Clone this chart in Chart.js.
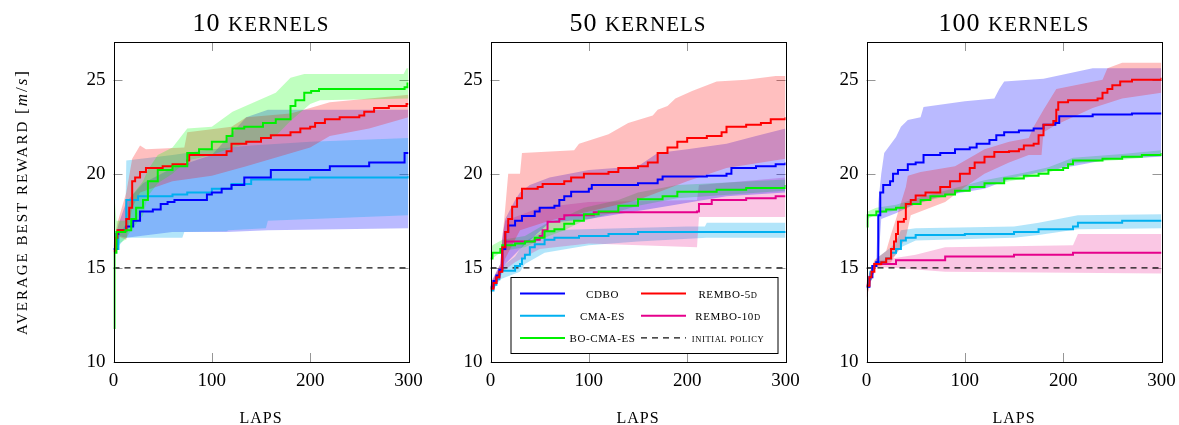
<!DOCTYPE html>
<html lang="en">
<head>
<meta charset="UTF-8">
<title>Average best reward vs laps</title>
<script src="https://cdn.jsdelivr.net/npm/chart.js"></script>
<style>
  body { margin: 0; background: #fff; overflow: hidden; }
  #wrap { position: relative; width: 1179px; height: 425px; overflow: hidden; }
  canvas { position: absolute; top: 0; }
</style>
</head>
<body>
<div id="wrap">
  <canvas id="c10" width="440" height="425" style="left:0px"></canvas>
  <canvas id="c50" width="440" height="425" style="left:377px"></canvas>
  <canvas id="c100" width="426" height="425" style="left:753px"></canvas>
</div>
<script>
// axis ticks
const xTicks = [0, 100, 200, 300];
const yTicks = [10, 15, 20, 25];
const initialPolicy = [[0, 15], [300, 15]];

// ---- 10 kernels: [lap, reward] ----
const k10_cdbo = [[0,16.0],[3,16.8],[5,17.0],[13,17.2],[20,17.5],[27,18.0],[40,18.1],[48,18.4],[55,18.5],[62,18.6],[95,18.9],[100,19.0],[110,19.2],[120,19.4],[133,19.8],[160,20.2],[220,20.4],[260,20.6],[296,21.1],[300,21.1]];
const k10_cdbo_hi = [[0,16.2],[5,17.3],[13,18.5],[30,19.5],[60,20.3],[100,21.0],[135,23.0],[157,23.4],[300,23.4]];
const k10_cdbo_lo = [[0,15.8],[5,16.7],[13,16.6],[60,16.9],[115,16.9],[157,17.0],[300,17.1]];
const k10_cma = [[0,16.0],[5,17.0],[12,17.1],[13,18.6],[25,18.8],[60,18.9],[75,19.0],[100,19.2],[120,19.45],[140,19.7],[200,19.8],[300,19.9]];
const k10_cma_hi = [[0,16.2],[12,17.3],[13,20.7],[60,21.0],[100,21.3],[140,21.5],[200,21.7],[300,21.9]];
const k10_cma_lo = [[0,15.8],[12,16.6],[70,16.6],[72,16.9],[115,16.95],[117,17.0],[155,17.1],[157,17.5],[300,17.8]];
const k10_bo = [[0,11.8],[1,15.8],[3,16.9],[12,17.0],[18,17.6],[23,18.2],[30,18.6],[35,19.6],[45,20.2],[60,20.4],[75,21.1],[87,21.3],[100,21.7],[115,22.0],[121,22.4],[133,22.5],[152,22.7],[165,22.9],[180,23.6],[185,23.9],[194,24.3],[201,24.4],[209,24.5],[290,24.5],[296,24.6],[299,24.8],[300,24.8]];
const k10_bo_hi = [[0,12.5],[1,18.8],[3,17.5],[12,17.5],[18,18.8],[30,19.6],[35,20.2],[45,21.0],[60,21.4],[75,22.4],[100,22.5],[121,23.3],[165,24.3],[180,25.1],[194,25.3],[295,25.3],[298,25.6],[300,25.6]];
const k10_bo_lo = [[0,11.0],[1,15.6],[3,16.2],[12,16.5],[18,17.0],[30,17.8],[35,18.8],[45,19.5],[60,20.0],[75,20.7],[100,21.0],[121,21.4],[165,22.0],[180,22.8],[200,23.7],[210,23.9],[300,24.0]];
const k10_r5 = [[0,15.9],[2,16.6],[4,17.0],[12,17.0],[13,17.6],[16,18.2],[19,19.6],[22,19.8],[27,20.1],[33,20.3],[50,20.4],[60,20.5],[75,20.7],[77,21.0],[100,21.0],[115,21.2],[120,21.6],[135,21.7],[150,21.9],[160,22.05],[180,22.2],[190,22.4],[200,22.5],[205,22.7],[215,22.9],[230,23.0],[250,23.1],[255,23.3],[265,23.5],[280,23.6],[298,23.7],[300,23.7]];
const k10_r5_hi = [[0,16.3],[4,17.4],[13,19.0],[19,20.8],[27,21.5],[33,21.3],[72,21.4],[75,22.2],[120,22.5],[135,23.0],[180,23.2],[200,23.5],[220,23.8],[300,24.2]];
const k10_r5_lo = [[0,15.5],[4,16.7],[13,16.5],[19,18.2],[27,19.0],[60,19.6],[100,19.9],[135,20.4],[200,21.4],[220,22.0],[260,22.4],[300,23.0]];

// ---- 50 kernels ----
const k50_cdbo = [[0,14.0],[3,14.3],[6,14.6],[9,14.9],[12,16.0],[15,16.9],[18,17.25],[25,17.5],[32,17.75],[45,18.0],[50,18.2],[65,18.3],[70,18.6],[75,18.8],[82,19.05],[100,19.2],[103,19.4],[150,19.5],[170,19.7],[175,19.85],[220,19.9],[240,20.0],[245,20.3],[270,20.4],[290,20.5],[300,20.6]];
const k50_cdbo_hi = [[0,14.2],[10,15.2],[12,16.5],[15,17.6],[25,18.6],[30,19.0],[40,19.4],[60,19.8],[100,20.2],[150,20.4],[170,21.1],[200,21.3],[240,21.6],[270,22.0],[300,22.4]];
const k50_cdbo_lo = [[0,13.6],[10,14.6],[12,15.0],[15,15.2],[30,16.0],[60,17.4],[100,17.6],[170,18.2],[240,18.8],[300,19.0]];
const k50_cma = [[0,13.8],[3,14.1],[6,14.4],[9,14.7],[10,14.85],[25,15.1],[30,15.2],[32,15.5],[35,15.7],[40,16.1],[45,16.25],[55,16.5],[65,16.6],[90,16.7],[120,16.8],[150,16.9],[300,16.95]];
const k50_cma_hi = [[0,14.0],[10,15.0],[25,15.6],[35,16.4],[55,17.0],[200,17.2],[218,17.2],[220,17.4],[300,17.4]];
const k50_cma_lo = [[0,13.6],[10,14.4],[30,14.8],[35,15.2],[55,15.8],[100,16.2],[150,16.4],[220,16.6],[300,16.6]];
const k50_bo = [[0,15.5],[2,15.8],[10,16.0],[12,16.2],[25,16.3],[35,16.4],[45,16.6],[55,16.95],[65,17.05],[75,17.35],[85,17.5],[95,17.85],[110,18.0],[130,18.3],[150,18.65],[175,18.8],[190,19.05],[230,19.15],[260,19.25],[300,19.4]];
const k50_bo_hi = [[0,15.9],[2,16.2],[12,16.5],[35,16.7],[55,17.3],[75,17.7],[95,18.2],[130,18.6],[150,19.0],[190,19.4],[300,19.7]];
const k50_bo_lo = [[0,15.2],[2,15.5],[12,15.9],[35,16.1],[55,16.6],[75,17.0],[95,17.5],[130,18.0],[150,18.3],[190,18.7],[300,19.1]];
const k50_r5 = [[0,13.9],[3,14.2],[6,14.5],[9,14.8],[12,16.1],[15,16.9],[18,17.6],[22,18.25],[27,18.7],[32,19.2],[48,19.3],[53,19.45],[75,19.6],[82,19.8],[95,20.0],[120,20.1],[130,20.3],[150,20.4],[160,20.6],[170,21.1],[180,21.4],[190,21.7],[200,21.9],[220,22.0],[235,22.2],[240,22.5],[260,22.6],[275,22.7],[285,22.9],[300,23.0]];
const k50_r5_hi = [[0,14.1],[10,15.2],[12,16.5],[15,18.2],[18,20.0],[30,20.0],[32,21.1],[85,21.25],[90,21.6],[120,22.1],[140,22.7],[165,23.1],[170,23.4],[180,23.6],[188,24.0],[205,24.4],[230,24.9],[260,25.0],[290,25.2],[300,25.2]];
const k50_r5_lo = [[0,13.7],[10,14.7],[12,15.0],[15,15.5],[30,17.0],[60,17.5],[100,18.0],[150,18.6],[200,19.6],[240,20.3],[300,20.8]];
const k50_r10 = [[0,13.9],[3,14.2],[6,14.5],[9,14.8],[11,15.0],[12,16.0],[15,16.4],[45,16.5],[50,16.7],[53,17.0],[58,17.45],[70,17.6],[75,17.8],[105,17.95],[210,18.0],[212,18.4],[225,18.6],[260,18.7],[290,18.8],[300,18.8]];
const k50_r10_hi = [[0,14.1],[10,15.1],[12,16.8],[15,17.5],[50,18.2],[100,18.5],[210,18.6],[212,19.4],[300,19.8]];
const k50_r10_lo = [[0,13.6],[10,14.7],[15,14.9],[25,15.3],[50,16.0],[100,16.3],[210,16.1],[212,17.7],[300,17.7]];

// ---- 100 kernels ----
const k100_cdbo = [[0,14.0],[3,14.5],[6,15.1],[10,15.3],[12,17.8],[14,19.0],[17,19.4],[24,19.6],[27,20.0],[32,20.2],[42,20.5],[50,20.6],[58,21.0],[75,21.1],[90,21.3],[105,21.4],[112,21.6],[125,21.8],[132,22.05],[140,22.2],[155,22.3],[170,22.4],[180,22.6],[192,22.7],[196,23.05],[230,23.15],[270,23.2],[300,23.2]];
const k100_cdbo_hi = [[0,14.2],[10,15.5],[12,18.5],[15,20.0],[18,21.1],[30,21.95],[35,22.5],[42,22.85],[55,23.0],[58,23.55],[100,23.85],[130,24.0],[135,24.5],[140,24.9],[180,25.05],[230,25.6],[300,25.6]];
const k100_cdbo_lo = [[0,13.8],[10,15.1],[12,15.3],[15,17.6],[30,17.9],[50,18.4],[75,18.8],[120,19.2],[150,19.8],[200,20.3],[250,20.8],[300,20.9]];
const k100_cma = [[0,14.0],[2,14.4],[4,14.8],[6,15.1],[10,15.3],[20,15.5],[25,15.8],[30,16.0],[35,16.45],[40,16.6],[50,16.75],[100,16.8],[150,16.9],[175,17.05],[210,17.2],[215,17.4],[260,17.5],[300,17.5]];
const k100_cma_hi = [[0,14.2],[10,15.5],[25,16.1],[30,16.4],[35,17.0],[50,17.1],[150,17.2],[175,17.4],[215,17.8],[300,17.85]];
const k100_cma_lo = [[0,13.8],[10,15.1],[25,15.5],[30,15.7],[35,16.1],[50,16.45],[150,16.6],[175,16.75],[215,17.05],[300,17.1]];
const k100_bo = [[0,17.2],[1,17.8],[10,18.0],[20,18.1],[30,18.2],[40,18.4],[55,18.6],[65,18.8],[80,18.9],[90,19.1],[105,19.3],[120,19.5],[140,19.75],[160,19.9],[175,20.0],[185,20.2],[200,20.3],[205,20.5],[210,20.7],[240,20.8],[260,20.9],[280,21.0],[300,21.1]];
const k100_bo_hi = [[0,17.4],[1,18.0],[10,18.2],[30,18.35],[55,18.75],[90,19.25],[120,19.65],[160,20.05],[185,20.35],[210,20.85],[260,21.05],[300,21.25]];
const k100_bo_lo = [[0,16.8],[1,17.6],[10,17.85],[30,18.05],[55,18.45],[90,18.95],[120,19.35],[160,19.75],[185,20.05],[210,20.55],[260,20.75],[300,20.95]];
const k100_r5 = [[0,14.05],[3,14.5],[5,14.8],[8,15.2],[15,15.3],[20,15.5],[25,16.0],[28,16.4],[30,16.8],[32,17.45],[38,17.6],[40,18.4],[45,18.6],[50,18.85],[60,19.0],[75,19.3],[85,19.6],[95,20.0],[105,20.3],[110,20.6],[120,20.9],[130,21.15],[145,21.2],[155,21.3],[160,21.5],[170,21.6],[175,22.05],[180,22.6],[190,22.8],[193,23.4],[195,23.8],[205,23.9],[235,24.0],[240,24.3],[245,24.5],[250,24.7],[258,24.9],[270,25.0],[300,25.1]];
const k100_r5_hi = [[0,14.3],[8,15.4],[20,15.9],[25,16.8],[30,17.6],[40,19.3],[42,19.9],[55,20.1],[90,20.4],[110,21.0],[120,21.3],[145,21.7],[165,21.9],[170,22.5],[180,23.4],[193,24.5],[240,25.0],[245,25.6],[260,25.9],[300,25.9]];
const k100_r5_lo = [[0,13.4],[8,15.0],[20,15.2],[25,15.3],[40,16.6],[45,17.8],[80,18.5],[100,19.3],[120,20.0],[145,20.6],[165,21.0],[178,21.0],[180,22.2],[193,22.6],[230,23.5],[260,24.0],[300,24.3]];
const k100_r10 = [[0,14.1],[2,14.4],[4,14.7],[6,15.0],[8,15.2],[30,15.4],[80,15.6],[150,15.7],[210,15.8],[300,15.8]];
const k100_r10_hi = [[0,14.3],[8,15.35],[50,15.7],[80,16.1],[210,16.2],[215,16.8],[300,16.8]];
const k100_r10_lo = [[0,13.4],[8,15.05],[30,15.0],[80,14.8],[300,14.7]];

// colours
const colors = {
  cdbo: ['rgb(0,0,255)', 'rgba(0,0,255,0.27)'],
  cma:  ['rgb(0,176,240)', 'rgba(0,170,240,0.3)'],
  bo:   ['rgb(0,240,0)', 'rgba(0,255,0,0.25)'],
  r5:   ['rgb(255,0,0)', 'rgba(255,0,0,0.25)'],
  r10:  ['rgb(230,0,140)', 'rgba(230,0,130,0.22)']
};
const FONT = "'Liberation Serif', 'Times New Roman', serif";

function meanLine(data, key) {
  return { data: data, borderColor: colors[key][0], borderWidth: 2, pointRadius: 0, stepped: true, fill: false };
}
function band(hi, lo, key) {
  return [
    { data: hi, borderColor: 'transparent', borderWidth: 0, backgroundColor: colors[key][1], pointRadius: 0, fill: '+1' },
    { data: lo, borderColor: 'transparent', borderWidth: 0, pointRadius: 0, fill: false }
  ];
}
function dashed() {
  return { data: initialPolicy, borderColor: '#111', borderWidth: 1.4, borderDash: [6, 5], pointRadius: 0, fill: false };
}

// text in pieces: [text, size, italic]
function drawParts(ctx, parts, x, y, spacing) {
  ctx.letterSpacing = spacing + 'px';
  let total = 0;
  const widths = parts.map(p => {
    ctx.font = (p[2] ? 'italic ' : '') + p[1] + 'px ' + FONT;
    const w = ctx.measureText(p[0]).width;
    total += w;
    return w;
  });
  let cx = x - total / 2;
  ctx.textAlign = 'left';
  ctx.textBaseline = 'alphabetic';
  parts.forEach((p, i) => {
    ctx.font = (p[2] ? 'italic ' : '') + p[1] + 'px ' + FONT;
    ctx.fillText(p[0], cx, y);
    cx += widths[i];
  });
  ctx.letterSpacing = '0px';
}

const legendItems = [
  { parts: [['CDBO', 11]], key: 'cdbo', col: 0, row: 0 },
  { parts: [['CMA-ES', 11]], key: 'cma', col: 0, row: 1 },
  { parts: [['BO-CMA-ES', 11]], key: 'bo', col: 0, row: 2 },
  { parts: [['REMBO-5', 11], ['D', 8.5]], key: 'r5', col: 1, row: 0 },
  { parts: [['REMBO-10', 11], ['D', 8.5]], key: 'r10', col: 1, row: 1 },
  { parts: [['INITIAL POLICY', 8.5]], key: null, col: 1, row: 2 }
];

const framePlugin = {
  id: 'frame',
  beforeDatasetsDraw(chart) {
    const { ctx, chartArea: a, scales } = chart;
    ctx.save();
    ctx.strokeStyle = 'rgb(150,150,150)';
    ctx.lineWidth = 1;
    const len = 9;
    ctx.beginPath();
    xTicks.forEach(v => {
      const px = Math.round(scales.x.getPixelForValue(v)) + 0.5;
      ctx.moveTo(px, a.bottom); ctx.lineTo(px, a.bottom - len);
      ctx.moveTo(px, a.top); ctx.lineTo(px, a.top + len);
    });
    yTicks.forEach(v => {
      const py = Math.round(scales.y.getPixelForValue(v)) + 0.5;
      ctx.moveTo(a.left, py); ctx.lineTo(a.left + len, py);
      ctx.moveTo(a.right, py); ctx.lineTo(a.right - len, py);
    });
    ctx.stroke();
    ctx.restore();
  },
  afterDatasetsDraw(chart, args, opts) {
    const { ctx, chartArea: a } = chart;
    ctx.save();
    if (opts.legend) {
      const bx = a.left + 20, by = a.top + 235, bw = 267, bh = 76;
      ctx.fillStyle = '#fff';
      ctx.fillRect(bx, by, bw, bh);
      ctx.strokeStyle = '#000';
      ctx.lineWidth = 1;
      ctx.strokeRect(bx + 0.5, by + 0.5, bw, bh);
      legendItems.forEach(it => {
        const ly = by + 16.5 + it.row * 22.2;
        const lx = bx + 9.5 + it.col * 121;
        ctx.beginPath();
        if (it.key) {
          ctx.strokeStyle = colors[it.key][0];
          ctx.lineWidth = 2;
          ctx.setLineDash([]);
        } else {
          ctx.strokeStyle = '#111';
          ctx.lineWidth = 1.4;
          ctx.setLineDash([6, 5]);
        }
        ctx.moveTo(lx, ly); ctx.lineTo(lx + 45, ly);
        ctx.stroke();
        ctx.setLineDash([]);
        ctx.fillStyle = '#000';
        drawParts(ctx, it.parts, bx + 92 + it.col * 125.5, ly + 4, 0.6);
      });
    }
    ctx.strokeStyle = '#000';
    ctx.lineWidth = 1;
    ctx.strokeRect(Math.round(a.left) + 0.5, Math.round(a.top) + 0.5, Math.round(a.right - a.left), Math.round(a.bottom - a.top));
    ctx.restore();
  },
  afterDraw(chart, args, opts) {
    const { ctx, chartArea: a } = chart;
    const cx = (a.left + a.right) / 2;
    ctx.save();
    ctx.fillStyle = '#000';
    drawParts(ctx, [[opts.num + ' ', 26], ['KERNELS', 21]], cx, 31, 1);
    drawParts(ctx, [['LAPS', 16]], cx, 423, 1);
    if (opts.yLabel) {
      ctx.translate(27, 202);
      ctx.rotate(-Math.PI / 2);
      drawParts(ctx, [['AVERAGE BEST REWARD ', 15], ['[', 17], ['m', 17, true], ['/', 17], ['s', 17, true], [']', 17]], 0, 0, 2);
    }
    ctx.restore();
  }
};

function makeChart(id, datasets, frame) {
  const canvas = document.getElementById(id);
  return new Chart(canvas, {
    type: 'line',
    data: { datasets: datasets },
    plugins: [framePlugin],
    options: {
      responsive: false,
      animation: false,
      devicePixelRatio: 1,
      layout: { padding: { top: 42, right: canvas.width - 408.5, left: 0, bottom: 0 } },
      plugins: { legend: { display: false }, title: { display: false }, tooltip: { enabled: false }, frame: frame },
      scales: {
        x: {
          type: 'linear', min: 0, max: 300,
          afterBuildTicks: s => { s.ticks = xTicks.map(v => ({ value: v })); },
          afterFit: s => { s.height = 63; s.paddingLeft = 0; s.paddingRight = 0; },
          grid: { display: false, drawTicks: false },
          border: { display: false },
          ticks: { padding: 8, color: '#000', maxRotation: 0, font: { family: FONT, size: 19 } }
        },
        y: {
          type: 'linear', min: 10, max: 27,
          afterBuildTicks: s => { s.ticks = yTicks.map(v => ({ value: v })); },
          afterFit: s => { s.width = 113.5; },
          grid: { display: false, drawTicks: false },
          border: { display: false },
          ticks: { padding: 8, color: '#000', font: { family: FONT, size: 19 } }
        }
      }
    }
  });
}

makeChart('c10', [
  meanLine(k10_bo, 'bo'), meanLine(k10_r5, 'r5'), meanLine(k10_cdbo, 'cdbo'), meanLine(k10_cma, 'cma'),
  dashed(),
  ...band(k10_bo_hi, k10_bo_lo, 'bo'), ...band(k10_r5_hi, k10_r5_lo, 'r5'),
  ...band(k10_cma_hi, k10_cma_lo, 'cma'), ...band(k10_cdbo_hi, k10_cdbo_lo, 'cdbo')
], { num: '10', yLabel: true });

makeChart('c50', [
  meanLine(k50_r5, 'r5'), meanLine(k50_cdbo, 'cdbo'), meanLine(k50_bo, 'bo'), meanLine(k50_r10, 'r10'), meanLine(k50_cma, 'cma'),
  dashed(),
  ...band(k50_r5_hi, k50_r5_lo, 'r5'), ...band(k50_cdbo_hi, k50_cdbo_lo, 'cdbo'), ...band(k50_bo_hi, k50_bo_lo, 'bo'),
  ...band(k50_r10_hi, k50_r10_lo, 'r10'), ...band(k50_cma_hi, k50_cma_lo, 'cma')
], { num: '50', legend: true });

makeChart('c100', [
  meanLine(k100_r5, 'r5'), meanLine(k100_cdbo, 'cdbo'), meanLine(k100_bo, 'bo'), meanLine(k100_cma, 'cma'), meanLine(k100_r10, 'r10'),
  dashed(),
  ...band(k100_r5_hi, k100_r5_lo, 'r5'), ...band(k100_cdbo_hi, k100_cdbo_lo, 'cdbo'), ...band(k100_bo_hi, k100_bo_lo, 'bo'),
  ...band(k100_cma_hi, k100_cma_lo, 'cma'), ...band(k100_r10_hi, k100_r10_lo, 'r10')
], { num: '100' });
</script>
</body>
</html>
